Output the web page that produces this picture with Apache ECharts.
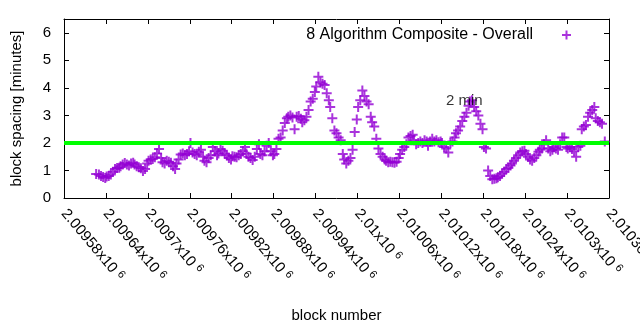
<!DOCTYPE html>
<html>
<head>
<meta charset="utf-8">
<script src="https://cdn.jsdelivr.net/npm/echarts@6/dist/echarts.min.js"></script>
<style>html,body{margin:0;padding:0;background:#fff}#chart{width:640px;height:330px}</style>
</head>
<body>
<div id="chart"></div>
<script>
const seriesName = '8 Algorithm Composite - Overall';
const xTitle = 'block number';
const yTitle = 'block spacing [minutes]';
const xMin = 2009580, xMax = 2010360, xStep = 60;
const yMin = 0, yMax = 6.5, yStep = 1;
const targetSpacing = 2;
const noteText = '2 min';
const noteBlock = 2010153, noteValue = 3.53;

const blocks = [
  2009626,
  2009630,2009633,2009636,2009639,2009641,2009644,2009647,
  2009650,2009653,2009656,2009659,2009661,2009664,2009667,
  2009670,2009673,2009676,2009679,2009681,2009684,2009687,
  2009690,2009693,2009696,2009699,2009701,2009704,2009707,
  2009710,2009713,2009716,2009719,2009721,2009724,2009727,
  2009730,2009733,2009736,2009739,2009741,2009744,2009747,
  2009750,2009753,2009756,2009759,2009761,2009764,2009767,
  2009770,2009773,2009776,2009779,2009781,2009784,2009787,
  2009790,2009793,2009796,2009799,2009801,2009804,2009807,
  2009810,2009813,2009816,2009819,2009821,2009824,2009827,
  2009830,2009833,2009836,2009839,2009841,2009844,2009847,
  2009850,2009853,2009856,2009859,2009861,2009864,2009867,
  2009870,2009873,2009876,2009879,2009881,2009884,2009887,
  2009890,2009893,2009896,2009899,2009901,2009904,2009907,
  2009910,2009913,2009916,2009919,2009921,2009924,2009927,
  2009930,2009933,2009936,2009939,2009941,2009944,2009947,
  2009950,2009953,2009956,2009959,2009961,2009964,2009967,
  2009970,2009973,2009976,2009979,2009981,2009984,2009987,
  2009990,2009993,2009996,2009999,2010001,2010004,2010007,
  2010010,2010013,2010016,2010019,2010021,2010024,2010027,
  2010030,2010033,2010036,2010039,2010041,2010044,2010047,
  2010050,2010053,2010056,2010059,2010061,2010064,2010067,
  2010070,2010073,2010076,2010079,2010081,2010084,2010087,
  2010090,2010093,2010096,2010099,2010101,2010104,2010107,
  2010110,2010113,2010116,2010119,2010121,2010124,2010127,
  2010130,2010133,2010136,2010139,2010141,2010144,2010147,
  2010150,2010153,2010156,2010159,2010161,2010164,2010167,
  2010170,2010173,2010176,2010179,2010181,2010184,2010187,
  2010190,2010193,2010196,2010199,2010201,2010204,2010207,
  2010210,2010213,2010216,2010219,2010221,2010224,2010227,
  2010230,2010233,2010236,2010239,2010241,2010244,2010247,
  2010250,2010253,2010256,2010259,2010261,2010264,2010267,
  2010270,2010273,2010276,2010279,2010281,2010284,2010287,
  2010290,2010293,2010296,2010299,2010301,2010304,2010307,
  2010310,2010313,2010316,2010319,2010321,2010324,2010327,
  2010330,2010333,2010336,2010339,2010341,2010344,2010347,
  2010350,
  2010354
];

const spacing = [
  0.87,
  0.85,0.80,0.76,0.73,0.78,0.80,0.85,
  0.95,1.05,1.09,1.10,1.15,1.22,1.27,
  1.22,1.18,1.25,1.28,1.22,1.15,1.12,
  1.08,0.98,1.05,1.25,1.35,1.40,1.42,
  1.48,1.62,1.78,1.45,1.30,1.25,1.35,
  1.32,1.28,1.15,1.05,1.25,1.40,1.58,
  1.62,1.55,1.60,1.70,2.00,1.65,1.60,
  1.55,1.68,1.75,1.50,1.35,1.30,1.45,
  1.55,1.85,1.70,1.55,1.62,1.78,1.72,
  1.62,1.55,1.45,1.40,1.52,1.50,1.48,
  1.55,1.60,1.70,1.85,1.62,1.50,1.45,
  1.38,1.50,1.78,1.95,1.60,1.55,1.70,
  1.90,2.00,1.70,1.55,1.60,1.78,2.15,
  2.20,2.45,2.72,2.90,2.95,3.00,2.92,
  2.50,2.95,2.98,2.88,2.75,2.82,2.95,
  3.20,3.50,3.60,3.85,4.05,4.40,4.20,
  4.15,4.10,3.80,3.55,3.30,2.90,2.45,
  2.35,2.20,2.10,1.60,1.40,1.25,1.35,
  1.45,1.75,2.40,2.85,3.30,3.55,3.90,
  3.70,3.50,3.40,2.95,2.75,2.60,2.15,
  1.80,1.60,1.50,1.40,1.35,1.30,1.32,
  1.30,1.28,1.32,1.45,1.60,1.75,1.85,
  1.95,2.20,2.25,2.30,2.10,1.95,2.00,
  2.05,2.00,2.10,2.05,1.90,2.05,2.15,
  2.05,2.10,2.02,2.05,2.00,1.85,1.80,
  1.65,2.00,2.05,2.20,2.35,2.45,2.60,
  2.80,2.95,3.10,3.35,3.50,3.55,3.30,
  3.15,3.00,2.70,2.50,1.85,1.80,1.00,
  0.80,0.68,0.70,0.72,0.75,0.80,0.88,
  0.95,1.05,1.10,1.18,1.25,1.35,1.45,
  1.55,1.65,1.70,1.72,1.60,1.50,1.40,
  1.35,1.45,1.55,1.68,1.75,1.80,1.95,
  2.10,1.80,1.70,1.75,1.85,1.80,1.75,
  1.95,2.20,2.20,1.85,1.80,1.85,1.78,
  1.70,1.50,1.85,1.90,2.50,2.60,2.65,
  2.95,3.10,3.20,3.30,2.90,2.80,2.75,
  2.70,
  2.05
];

const FONT = 'Liberation Sans, Arial, sans-serif';
const PURPLE = '#9400d3';
const PLUS = 'path://M0,5H10M5,0V10';

const chart = echarts.init(document.getElementById('chart'), null, {renderer: 'canvas'});

const xLabelFmt = v => '{m|' + String(Number((v / 1e6).toFixed(5))) + 'x10}{s|6}';

const commonX = {
  type: 'value', min: xMin, max: xMax, interval: xStep,
  axisLine: {show: true, onZero: false, lineStyle: {color: '#000', width: 1}},
  axisTick: {show: true, inside: true, length: 5, lineStyle: {color: '#000'}},
  splitLine: {show: false}
};
const commonY = {
  type: 'value', min: yMin, max: yMax, interval: yStep,
  axisLine: {show: true, onZero: false, lineStyle: {color: '#000', width: 1}},
  axisTick: {show: true, inside: true, length: 5, lineStyle: {color: '#000'}},
  splitLine: {show: false}
};

chart.setOption({
  animation: false,
  backgroundColor: '#fff',
  grid: {left: 64, right: 31, top: 19, bottom: 132, containLabel: false, outerBoundsMode: 'none'},
  legend: {
    data: [{name: seriesName, icon: PLUS}],
    right: 63, top: 22, align: 'right',
    itemWidth: 9, itemHeight: 9,
    textStyle: {fontFamily: FONT, fontSize: 16, color: '#000', padding: [0, 24, 0, 0]}
  },
  xAxis: [
    Object.assign({}, commonX, {
      position: 'bottom',
      name: xTitle, nameLocation: 'middle', nameGap: 110,
      nameTextStyle: {fontFamily: FONT, fontSize: 15, color: '#000'},
      axisLabel: {
        show: true, interval: 0, rotate: -50, margin: 13, hideOverlap: false,
        showMinLabel: true, showMaxLabel: true,
        formatter: xLabelFmt,
        rich: {
          m: {fontFamily: FONT, fontSize: 15, color: '#000'},
          s: {fontFamily: FONT, fontSize: 11, color: '#000', padding: [0, 0, 6, 4]}
        }
      }
    }),
    Object.assign({}, commonX, {position: 'top', axisLabel: {show: false}})
  ],
  yAxis: [
    Object.assign({}, commonY, {
      position: 'left',
      name: yTitle, nameLocation: 'middle', nameGap: 40, nameRotate: 90,
      nameTextStyle: {fontFamily: FONT, fontSize: 15, color: '#000'},
      axisLabel: {show: true, margin: 13, showMaxLabel: false, fontFamily: FONT, fontSize: 15, color: '#000'}
    }),
    Object.assign({}, commonY, {position: 'right', axisLabel: {show: false}})
  ],
  series: [
    {
      name: seriesName, type: 'scatter', xAxisIndex: 0, yAxisIndex: 0,
      symbol: PLUS, symbolSize: 10,
      itemStyle: {color: 'rgba(0,0,0,0)', borderColor: PURPLE, borderWidth: 2},
      data: blocks.map((b, i) => [b, spacing[i]]),
      z: 2,
      markLine: {
        silent: true, symbol: 'none', animation: false,
        label: {show: false},
        lineStyle: {color: '#00ff00', width: 4, type: 'solid'},
        data: [{yAxis: targetSpacing}]
      }
    },
    {
      name: 'note', type: 'scatter', xAxisIndex: 0, yAxisIndex: 0,
      symbolSize: 1, itemStyle: {color: 'rgba(0,0,0,0)'},
      z: 5,
      label: {show: true, position: 'inside', formatter: noteText, fontFamily: FONT, fontSize: 15, color: '#000'},
      data: [[noteBlock, noteValue]]
    }
  ]
});
</script>
</body>
</html>
